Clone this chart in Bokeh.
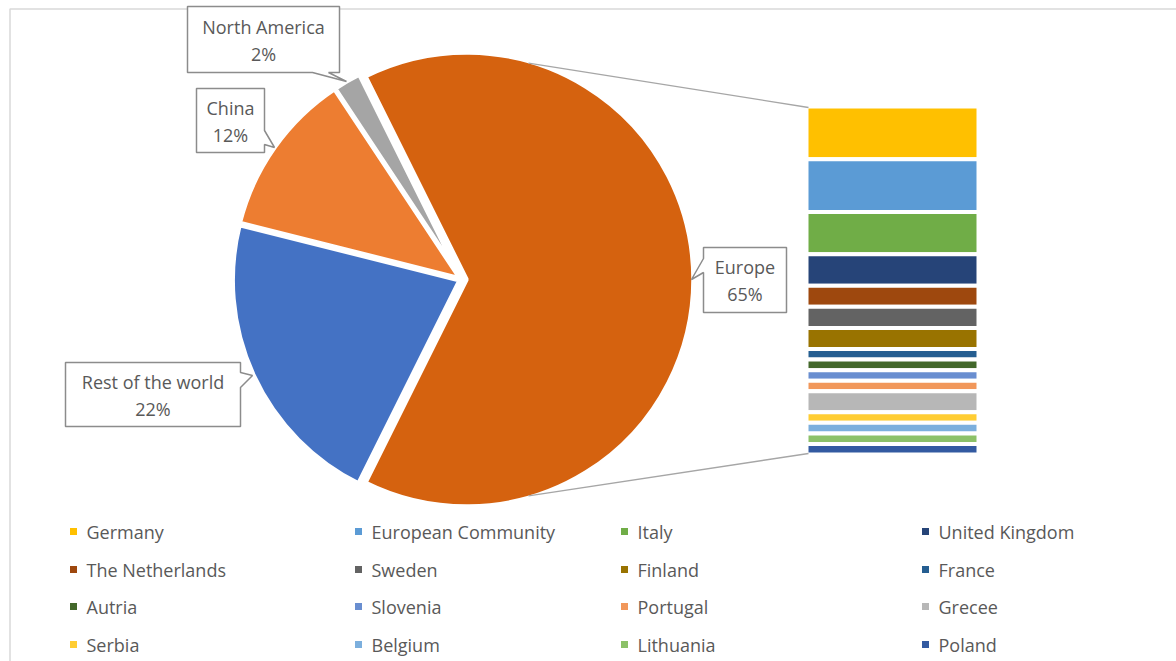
import math
from bokeh.plotting import figure
from bokeh.models import Range1d
from bokeh.core.properties import value
from bokeh.embed import file_html
from bokeh.resources import INLINE

# ---------------- data ----------------
regions = ["Europe", "North America", "China", "Rest of the world"]
region_counts = [33, 1, 6, 11]
region_colors = ["#D5620F", "#A5A5A5", "#ED7D31", "#4472C4"]

countries = ["Germany", "European Community", "Italy", "United Kingdom",
             "The Netherlands", "Sweden", "Finland", "France",
             "Autria", "Slovenia", "Portugal", "Grecee",
             "Serbia", "Belgium", "Lithuania", "Poland"]
country_counts = [5, 5, 4, 3, 2, 2, 2, 1, 1, 1, 1, 2, 1, 1, 1, 1]
country_colors = ["#FFC000", "#5B9BD5", "#70AD47", "#264478",
                  "#9E480E", "#636363", "#997300", "#255E91",
                  "#43682B", "#698ED0", "#F1975A", "#B7B7B7",
                  "#FFCD33", "#7CAFDD", "#8CC168", "#335AA1"]

# ---------------- layout ----------------
W, H = 1176, 661
FONT = "Open Sans"
TXT = "#595959"
FS = "18px"

def Y(y):
    return H - y

p = figure(width=W, height=H, x_range=Range1d(0, W), y_range=Range1d(0, H),
           output_backend="svg", toolbar_location=None, min_border=0)
p.axis.visible = False
p.grid.visible = False
p.outline_line_color = None
p.background_fill_color = "white"

# chart area border
p.quad(left=[9.5], right=[W + 5], top=[Y(8.5)], bottom=[-5],
       fill_color=None, line_color="#D9D9D9", line_width=1.5)

# ---------------- pie ----------------
cx, cy, R = 461, 279, 227
total = sum(region_counts)
eu_span = region_counts[0] / total * 2 * math.pi
start = -eu_span / 2
starts, ends, xs, ys = [], [], [], []
for i, c in enumerate(region_counts):
    span = c / total * 2 * math.pi
    s, e = start, start + span
    mid = (s + e) / 2
    off = 5 if i == 0 else 2
    starts.append(s); ends.append(e)
    xs.append(cx + off * math.cos(mid)); ys.append(Y(cy) + off * math.sin(mid))
    start = e
p.wedge(x=xs, y=ys, radius=R, start_angle=starts, end_angle=ends,
        fill_color=region_colors, line_color="white", line_width=4.5,
        direction="anticlock", radius_units="screen")

# ---------------- bar of pie ----------------
bx0, bx1, btop, bbot = 806, 978, 106, 454
ctot = sum(country_counts)
scale = (bbot - btop) / ctot
tops, bots = [], []
acc = 0
for c in country_counts:
    tops.append(Y(btop + acc * scale))
    acc += c
    bots.append(Y(btop + acc * scale))
p.quad(left=[bx0] * len(countries), right=[bx1] * len(countries),
       top=tops, bottom=bots, fill_color=country_colors,
       line_color="white", line_width=4)

# series lines
ang = math.radians(74)
ex = xs[0]; ey = ys[0]
p.segment(x0=[ex + (R - 2) * math.cos(ang), ex + (R - 2) * math.cos(-ang)],
          y0=[ey + (R - 2) * math.sin(ang), ey + (R - 2) * math.sin(-ang)],
          x1=[bx0 + 2, bx0 + 2], y1=[Y(btop + 1), Y(bbot - 1)],
          line_color="#A6A6A6", line_width=1.3)

# ---------------- callouts ----------------
def callout(x0, y0, x1, y1, side, a, b, tip):
    if side == "bottom":
        pts = [(x0, y0), (x1, y0), (x1, y1), (b, y1), tip, (a, y1), (x0, y1)]
    elif side == "right":
        pts = [(x0, y0), (x1, y0), (x1, a), tip, (x1, b), (x1, y1), (x0, y1)]
    else:  # left
        pts = [(x0, y0), (x1, y0), (x1, y1), (x0, y1), (x0, b), tip, (x0, a)]
    return [q[0] for q in pts], [Y(q[1]) for q in pts]

boxes = {
    "North America": (187, 6, 339, 72, "bottom", 312, 328, (346, 81)),
    "China": (196, 88, 264, 152, "right", 130, 144, (274, 147)),
    "Rest of the world": (65, 362, 240, 426, "right", 372, 387, (252, 375)),
    "Europe": (703, 247, 786, 312, "left", 258, 272, (691, 279)),
}
pxs, pys = [], []
lx, ly1, ly2, lname, lpct = [], [], [], [], []
for name, cnt in zip(regions, region_counts):
    x0, y0, x1, y1, side, a, b, tip = boxes[name]
    px, py = callout(x0, y0, x1, y1, side, a, b, tip)
    pxs.append(px); pys.append(py)
    mx, my = (x0 + x1) / 2, (y0 + y1) / 2
    lx.append(mx); ly1.append(Y(my - 13)); ly2.append(Y(my + 14))
    lname.append(name); lpct.append(f"{round(cnt / total * 100)}%")
p.patches(xs=pxs, ys=pys, fill_color="white", line_color="#8C8C8C", line_width=1.5)
p.text(x=lx, y=ly1, text=lname, text_align="center", text_baseline="middle",
       text_font=value(FONT), text_font_size=FS, text_color=TXT)
p.text(x=lx, y=ly2, text=lpct, text_align="center", text_baseline="middle",
       text_font=value(FONT), text_font_size=FS, text_color=TXT)

# ---------------- legend ----------------
col_x = [73, 358, 624, 925]
row_y = [531, 569, 606, 644]
mx_, my_, tx_, ty_ = [], [], [], []
for i, name in enumerate(countries):
    cx_ = col_x[i % 4]; ry = row_y[i // 4]
    mx_.append(cx_); my_.append(Y(ry))
    tx_.append(cx_ + 13); ty_.append(Y(ry))
p.scatter(x=mx_, y=my_, marker="square", size=7, fill_color=country_colors,
          line_color=None)
p.text(x=tx_, y=ty_, text=countries, text_align="left", text_baseline="middle",
       text_font=value(FONT), text_font_size=FS, text_color=TXT)

open("out.html", "w").write(file_html(p, INLINE))
